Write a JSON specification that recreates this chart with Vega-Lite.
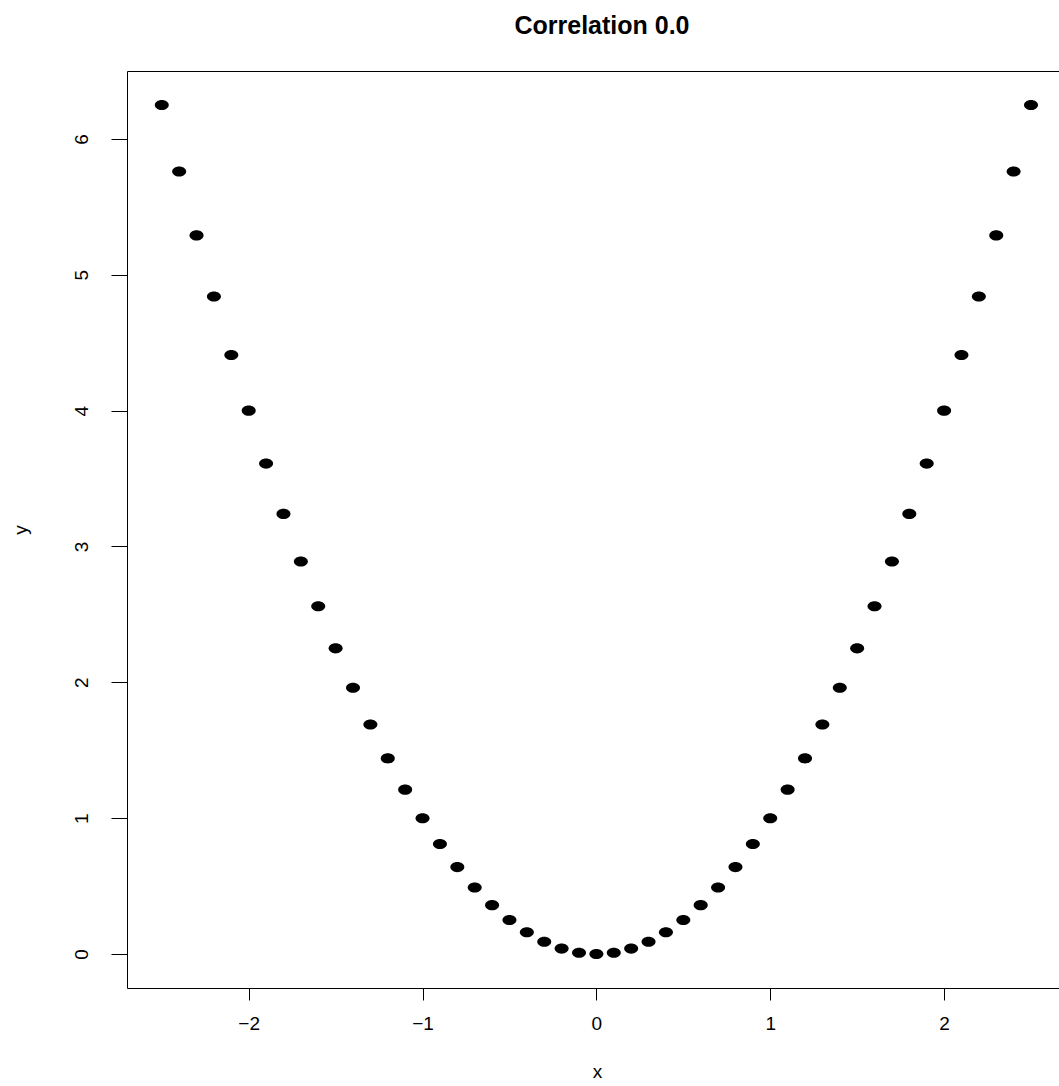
{
  "$schema": "https://vega.github.io/schema/vega-lite/v6.json",
  "width": 932,
  "height": 917,
  "autosize": {"type": "none"},
  "padding": {"left": 127, "top": 71, "right": 0, "bottom": 98},
  "background": "white",
  "config": {
    "view": {"stroke": null},
    "font": "Liberation Sans"
  },
  "title": {
    "text": "Correlation 0.0",
    "font": "Liberation Sans",
    "fontSize": 25,
    "fontWeight": "bold",
    "color": "black",
    "anchor": "middle",
    "baseline": "alphabetic",
    "offset": 12,
    "dx": 9
  },
  "data": {
    "values": [
      {"x": -2.5, "y": 6.25}, {"x": -2.4, "y": 5.76}, {"x": -2.3, "y": 5.29}, {"x": -2.2, "y": 4.84},
      {"x": -2.1, "y": 4.41}, {"x": -2.0, "y": 4.0}, {"x": -1.9, "y": 3.61}, {"x": -1.8, "y": 3.24},
      {"x": -1.7, "y": 2.89}, {"x": -1.6, "y": 2.56}, {"x": -1.5, "y": 2.25}, {"x": -1.4, "y": 1.96},
      {"x": -1.3, "y": 1.69}, {"x": -1.2, "y": 1.44}, {"x": -1.1, "y": 1.21}, {"x": -1.0, "y": 1.0},
      {"x": -0.9, "y": 0.81}, {"x": -0.8, "y": 0.64}, {"x": -0.7, "y": 0.49}, {"x": -0.6, "y": 0.36},
      {"x": -0.5, "y": 0.25}, {"x": -0.4, "y": 0.16}, {"x": -0.3, "y": 0.09}, {"x": -0.2, "y": 0.04},
      {"x": -0.1, "y": 0.01}, {"x": 0.0, "y": 0.0}, {"x": 0.1, "y": 0.01}, {"x": 0.2, "y": 0.04},
      {"x": 0.3, "y": 0.09}, {"x": 0.4, "y": 0.16}, {"x": 0.5, "y": 0.25}, {"x": 0.6, "y": 0.36},
      {"x": 0.7, "y": 0.49}, {"x": 0.8, "y": 0.64}, {"x": 0.9, "y": 0.81}, {"x": 1.0, "y": 1.0},
      {"x": 1.1, "y": 1.21}, {"x": 1.2, "y": 1.44}, {"x": 1.3, "y": 1.69}, {"x": 1.4, "y": 1.96},
      {"x": 1.5, "y": 2.25}, {"x": 1.6, "y": 2.56}, {"x": 1.7, "y": 2.89}, {"x": 1.8, "y": 3.24},
      {"x": 1.9, "y": 3.61}, {"x": 2.0, "y": 4.0}, {"x": 2.1, "y": 4.41}, {"x": 2.2, "y": 4.84},
      {"x": 2.3, "y": 5.29}, {"x": 2.4, "y": 5.76}, {"x": 2.5, "y": 6.25}
    ]
  },
  "layer": [
    {
      "mark": {
        "type": "point",
        "shape": "M-1,0A1,0.72,0,1,1,1,0A1,0.72,0,1,1,-1,0Z",
        "size": 196,
        "filled": true,
        "color": "black",
        "opacity": 1,
        "strokeWidth": 0
      },
      "encoding": {
        "x": {
          "field": "x",
          "type": "quantitative",
          "scale": {"domain": [-2.7, 2.661], "nice": false, "zero": false},
          "axis": {
            "orient": "bottom",
            "values": [-2, -1, 0, 1, 2],
            "grid": false,
            "domainColor": "black",
            "domainWidth": 1,
            "tickColor": "black",
            "tickWidth": 1,
            "tickSize": 12,
            "labelFont": "Liberation Sans",
            "labelFontSize": 19,
            "labelColor": "black",
            "labelPadding": 14,
            "labelFlush": false,
            "title": "x",
            "titleFont": "Liberation Sans",
            "titleFontSize": 19,
            "titleFontWeight": "normal",
            "titleColor": "black",
            "titleAlign": "center",
            "titleBaseline": "alphabetic",
            "titleX": 470,
            "titleY": 89
          }
        },
        "y": {
          "field": "y",
          "type": "quantitative",
          "scale": {"domain": [-0.25, 6.5], "nice": false, "zero": false},
          "axis": {
            "orient": "left",
            "values": [0, 1, 2, 3, 4, 5, 6],
            "grid": false,
            "domainColor": "black",
            "domainWidth": 1,
            "tickColor": "black",
            "tickWidth": 1,
            "tickSize": 16,
            "labelFont": "Liberation Sans",
            "labelFontSize": 19,
            "labelColor": "black",
            "labelAngle": 270,
            "labelAlign": "center",
            "labelBaseline": "alphabetic",
            "labelPadding": 24,
            "labelFlush": false,
            "title": "y",
            "titleFont": "Liberation Sans",
            "titleFontSize": 19,
            "titleFontWeight": "normal",
            "titleColor": "black",
            "titleAngle": 270,
            "titleAlign": "center",
            "titleBaseline": "alphabetic",
            "titleX": -101,
            "titleY": 458.5
          }
        }
      }
    },
    {
      "mark": {"type": "rule", "color": "black", "strokeWidth": 1, "opacity": 0},
      "encoding": {
        "x": {
          "datum": 0,
          "type": "quantitative",
          "axis": {
            "orient": "top",
            "domain": true,
            "domainColor": "black",
            "domainWidth": 1,
            "ticks": false,
            "labels": false,
            "grid": false,
            "title": null
          }
        }
      }
    }
  ],
  "resolve": {"axis": {"x": "independent"}}
}
